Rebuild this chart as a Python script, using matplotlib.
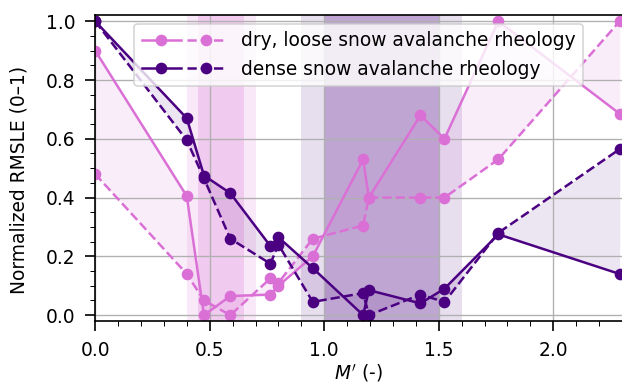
import numpy as np
import matplotlib.pyplot as plt
from matplotlib.legend_handler import HandlerTuple

# M' values shared by all runs
m_prime = [0.0, 0.40, 0.475, 0.59, 0.765, 0.80, 0.95, 1.17, 1.195, 1.42, 1.525, 1.76, 2.29]

# normalized RMSLE, solid = first metric, dashed = second metric
dry_solid = [0.90, 0.405, 0.0, 0.065, 0.07, 0.10, 0.20, 0.53, 0.40, 0.68, 0.60, 1.0, 0.685]
dry_dashed = [0.48, 0.14, 0.05, 0.0, 0.125, 0.11, 0.26, 0.305, 0.40, 0.40, 0.40, 0.53, 1.0]
dense_solid = [1.0, 0.67, 0.475, 0.415, 0.235, 0.265, 0.16, 0.0, 0.085, 0.04, 0.09, 0.275, 0.14]
dense_dashed = [1.0, 0.595, 0.465, 0.26, 0.175, 0.24, 0.045, 0.075, 0.0, 0.07, 0.045, 0.28, 0.565]

dry_col = 'orchid'
dense_col = 'indigo'

plt.rcParams['font.size'] = 11.2

fig = plt.figure(figsize=(622 / 120, 384 / 120), dpi=120)
ax = fig.add_axes([0.153, 0.164, 0.847, 0.796])

# best-fit ranges of M'
ax.axvspan(0.4, 0.7, color=dry_col, alpha=0.15, lw=0)
ax.axvspan(0.45, 0.65, color=dry_col, alpha=0.25, lw=0)
ax.axvspan(0.9, 1.6, color=dense_col, alpha=0.13, lw=0)
ax.axvspan(1.0, 1.5, color=dense_col, alpha=0.25, lw=0)

ax.fill_between(m_prime, dry_solid, dry_dashed, color=dry_col, alpha=0.12, lw=0)
ax.fill_between(m_prime, dense_solid, dense_dashed, color=dense_col, alpha=0.1, lw=0)

l1, = ax.plot(m_prime, dry_solid, '-o', color=dry_col, ms=6, lw=1.5)
l2, = ax.plot(m_prime, dry_dashed, '--o', color=dry_col, ms=6, lw=1.5)
l3, = ax.plot(m_prime, dense_solid, '-o', color=dense_col, ms=6, lw=1.5)
l4, = ax.plot(m_prime, dense_dashed, '--o', color=dense_col, ms=6, lw=1.5)

ax.legend([(l1, l2), (l3, l4)],
          ['dry, loose snow avalanche rheology', 'dense snow avalanche rheology'],
          handler_map={tuple: HandlerTuple(ndivide=None, pad=0.3)},
          handlelength=4.5, loc='upper center', borderaxespad=0.45)

ax.set_xlim(0, 2.3)
ax.set_ylim(-0.02, 1.02)
ax.set_xticks([0.0, 0.5, 1.0, 1.5, 2.0])
ax.set_yticks([0.0, 0.2, 0.4, 0.6, 0.8, 1.0])
ax.minorticks_on()
ax.grid(True, which='major')
ax.tick_params(which='major', length=6, width=1, pad=6)
ax.tick_params(which='minor', length=3)
for side in ['left', 'bottom', 'top']:
    ax.spines[side].set_linewidth(1.0)
ax.spines['right'].set_visible(False)
ax.set_xlabel("$M'$ (-)", labelpad=1)
ax.set_ylabel('Normalized RMSLE (0–1)')
ax.yaxis.set_label_coords(-0.127, 0.46)

fig.savefig('out.png', dpi=120)
